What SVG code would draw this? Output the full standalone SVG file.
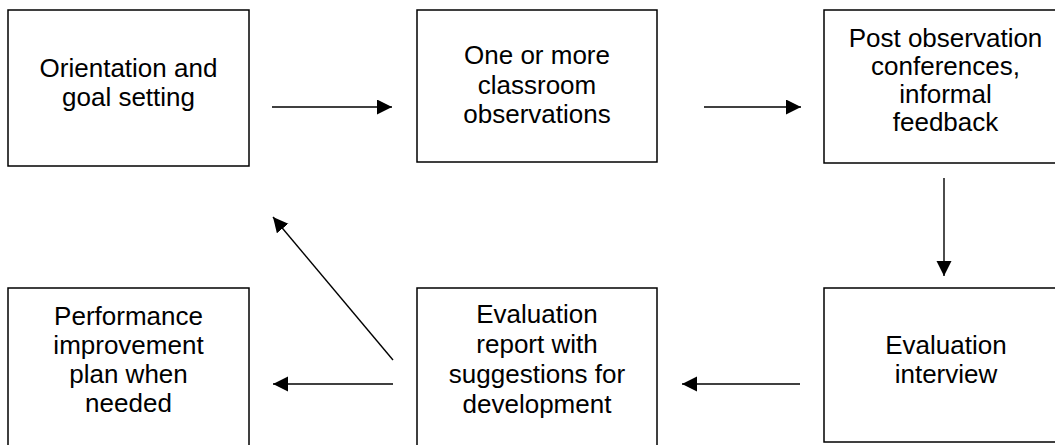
<svg xmlns="http://www.w3.org/2000/svg" width="1055" height="445" viewBox="0 0 1055 445">
<style>
.box{fill:#fff;stroke:#000;stroke-width:1.5}
.lbl{font-family:"Liberation Sans",Arial,sans-serif;font-size:26px;fill:#000;text-anchor:middle}
.conn{stroke:#000;stroke-width:1.4;fill:none;marker-end:url(#ah)}
</style>
<defs>
<marker id="ah" markerUnits="userSpaceOnUse" markerWidth="16" markerHeight="16" refX="15" refY="7.5" orient="auto">
<path d="M0,0 L15,7.5 L0,15 z" fill="#000"/>
</marker>
</defs>
<rect width="1055" height="445" fill="#fff"/>
<g id="n1"><rect class="box" x="8" y="10" width="241" height="156"/>
<text class="lbl"><tspan x="128.5" y="77">Orientation and</tspan><tspan x="128.5" y="105.5">goal setting</tspan></text></g>
<g id="n2"><rect class="box" x="417" y="10" width="240" height="152"/>
<text class="lbl"><tspan x="537" y="64">One or more</tspan><tspan x="537" y="93.5">classroom</tspan><tspan x="537" y="123">observations</tspan></text></g>
<g id="n3"><rect class="box" x="824" y="10" width="243" height="153"/>
<text class="lbl"><tspan x="945.5" y="47">Post observation</tspan><tspan x="945.5" y="75">conferences,</tspan><tspan x="945.5" y="103">informal</tspan><tspan x="945.5" y="131">feedback</tspan></text></g>
<g id="n4"><rect class="box" x="824" y="288" width="243" height="154"/>
<text class="lbl"><tspan x="946" y="354">Evaluation</tspan><tspan x="946" y="383">interview</tspan></text></g>
<g id="n5"><rect class="box" x="417" y="288" width="240" height="170"/>
<text class="lbl"><tspan x="537" y="323">Evaluation</tspan><tspan x="537" y="353">report with</tspan><tspan x="537" y="383">suggestions for</tspan><tspan x="537" y="413">development</tspan></text></g>
<g id="n6"><rect class="box" x="8" y="288" width="241" height="170"/>
<text class="lbl"><tspan x="128.5" y="325">Performance</tspan><tspan x="128.5" y="354">improvement</tspan><tspan x="128.5" y="383">plan when</tspan><tspan x="128.5" y="412">needed</tspan></text></g>
<g id="connectors">
<line class="conn" x1="272" y1="107" x2="392" y2="107"/>
<line class="conn" x1="704" y1="107" x2="801" y2="107"/>
<line class="conn" x1="944" y1="178" x2="944" y2="276"/>
<line class="conn" x1="800" y1="384" x2="682" y2="384"/>
<line class="conn" x1="393" y1="384" x2="273" y2="384"/>
<line class="conn" x1="393" y1="360" x2="273" y2="217"/>
</g>
</svg>
